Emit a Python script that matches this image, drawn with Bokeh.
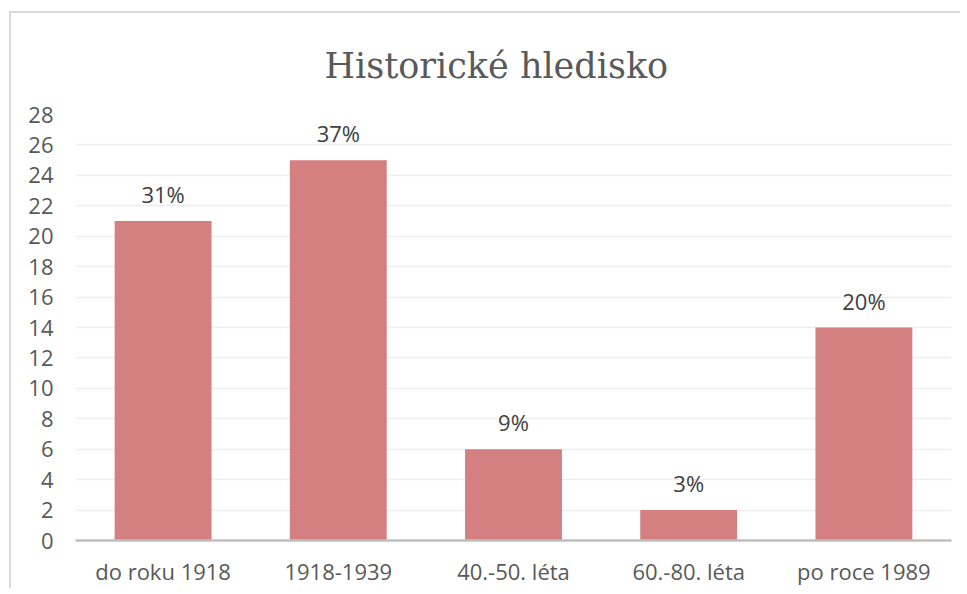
from bokeh.plotting import figure
from bokeh.models import ColumnDataSource, FixedTicker, Range1d, Title
from bokeh.core.properties import value
from bokeh.embed import file_html
from bokeh.resources import INLINE

title_text = "Historické hledisko"
categories = ["do roku 1918", "1918-1939", "40.-50. léta", "60.-80. léta", "po roce 1989"]
counts = [21, 25, 6, 2, 14]
percent_labels = ["31%", "37%", "9%", "3%", "20%"]
y_ticks = list(range(0, 30, 2))

src = ColumnDataSource(dict(cat=categories, val=counts, lab=percent_labels))

W, H = 960, 588
p = figure(x_range=categories, y_range=Range1d(0, 28), width=W, height=H,
           output_backend="svg", toolbar_location=None,
           min_border_left=75, min_border_right=W - 951, min_border_top=114, min_border_bottom=H - 541)
p.border_fill_color = None
p.background_fill_color = None
p.outline_line_color = None
p.styles = {"box-shadow": "inset 0 11px 0 0 #ffffff, inset 9px 0 0 0 #ffffff, "
                          "inset 0 13px 0 0 #D9D9D9, inset 11px 0 0 0 #D9D9D9"}

# small invisible spacer panel between frame and title
spacer = Title(text=".", text_font_size="12px", standoff=0, text_color=None)
p.add_layout(spacer, "above")
t = Title(text=title_text, text_font="DejaVu Serif", text_font_size="35px",
          text_font_style="normal", text_color="#595959", align="left", standoff=58, offset=249)
p.add_layout(t, "above")

p.vbar(x="cat", top="val", width=0.553, source=src, fill_color="#D47F80", line_color=None)
p.text(x="cat", y="val", text="lab", source=src, text_align="center", text_baseline="alphabetic",
       y_offset=-27, text_font=value("Open Sans"), text_font_size="22px", text_color="#404040")

p.xgrid.grid_line_color = None
p.ygrid.grid_line_color = "#EEEEEE"
p.ygrid.grid_line_width = 1.5
p.yaxis.ticker = FixedTicker(ticks=y_ticks)

p.yaxis.axis_line_color = None
p.yaxis.major_tick_line_color = None
p.yaxis.minor_tick_line_color = None
p.yaxis.major_label_standoff = 16
p.yaxis.major_label_text_font = "Open Sans"
p.yaxis.major_label_text_font_size = "22px"
p.yaxis.major_label_text_color = "#595959"

p.xaxis.axis_line_color = "#BFBFBF"
p.xaxis.axis_line_width = 2.5
p.xaxis.major_tick_line_color = None
p.xaxis.minor_tick_line_color = None
p.xaxis.major_label_standoff = 9
p.xaxis.major_label_text_font = "Open Sans"
p.xaxis.major_label_text_font_size = "22px"
p.xaxis.major_label_text_color = "#595959"
p.x_range.range_padding = 0

open("out.html", "w").write(file_html(p, INLINE))
